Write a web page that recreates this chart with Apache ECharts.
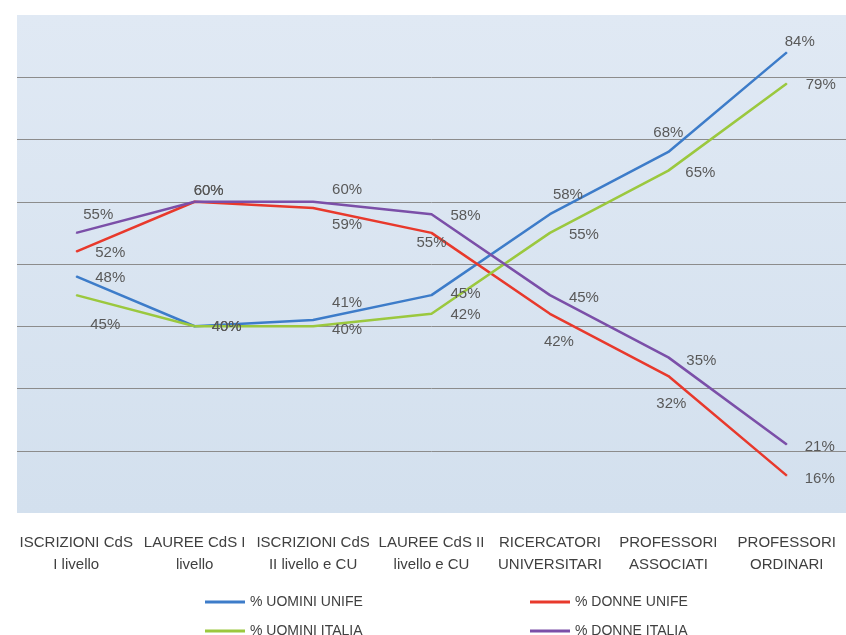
<!DOCTYPE html>
<html>
<head>
<meta charset="utf-8">
<script src="https://cdn.jsdelivr.net/npm/echarts@6/dist/echarts.min.js"></script>
<style>
  html, body { margin: 0; padding: 0; background: #fff; }
  #chart { width: 846px; height: 635px; }
</style>
</head>
<body>
<div id="chart"></div>
<script>
const categories = [
  'ISCRIZIONI CdS\nI livello',
  'LAUREE CdS I\nlivello',
  'ISCRIZIONI CdS\nII livello e CU',
  'LAUREE CdS II\nlivello e CU',
  'RICERCATORI\nUNIVERSITARI',
  'PROFESSORI\nASSOCIATI',
  'PROFESSORI\nORDINARI'
]

const uominiUnife = [48, 40, 41, 45, 58, 68, 84]
const donneUnife = [52, 60, 59, 55, 42, 32, 16]
const uominiItalia = [45, 40, 40, 42, 55, 65, 79]
const donneItalia = [55, 60, 60, 58, 45, 35, 21]

// label offsets (px) from each point, copied from the excel layout
const OFFSETS = {
  uominiUnife: [[34, 1], [32, 1], [34, -17], [34, -1], [18, -19], [0, -19], [13, -10]],
  donneUnife: [[34, 1], [14, -11], [34, 17], [0, 10], [9, 28], [3, 28], [33, 3]],
  uominiItalia: [[29, 30], [32, 1], [34, 4], [34, 1], [34, 2], [32, 2], [34, 1]],
  donneItalia: [[22, -18], [14, -11], [34, -12], [34, 2], [34, 3], [33, 3], [33, 2]]
}

const chart = echarts.init(document.getElementById('chart'))

const makeSeries = (name, values, offsets, color) => ({
  name,
  type: 'line',
  data: values.map((v, i) => ({
    value: v,
    label: { offset: offsets[i] }
  })),
  symbol: 'circle',
  symbolSize: 1,
  lineStyle: { width: 2.5, color },
  itemStyle: { color },
  label: {
    show: true,
    position: 'inside',
    formatter: p => p.value + '%',
    color: '#595959',
    fontFamily: 'Liberation Sans',
    fontSize: 15
  },
  emphasis: { disabled: true }
})

const legendBase = {
  icon: 'rect',
  itemWidth: 40,
  itemHeight: 3,
  itemGap: 4,
  textStyle: { color: '#404040', fontFamily: 'Liberation Sans', fontSize: 14, padding: [0, 0, 0, 0] }
}

const option = {
  animation: false,
  backgroundColor: '#ffffff',
  grid: {
    left: 17,
    top: 15,
    right: -6,
    height: 498,
    show: true,
    borderWidth: 0,
    backgroundColor: new echarts.graphic.LinearGradient(0, 0, 0, 1, [
      { offset: 0, color: '#e0e9f4' },
      { offset: 1, color: '#d3e0ee' }
    ])
  },
  legend: [
    { ...legendBase, data: ['% UOMINI UNIFE'], left: 200, top: 590 },
    { ...legendBase, data: ['% DONNE UNIFE'], left: 525, top: 590 },
    { ...legendBase, data: ['% UOMINI ITALIA'], left: 200, top: 619 },
    { ...legendBase, data: ['% DONNE ITALIA'], left: 525, top: 619 }
  ],
  xAxis: {
    type: 'category',
    data: categories,
    boundaryGap: true,
    axisLine: { show: false },
    axisTick: { show: false },
    axisLabel: {
      interval: 0,
      margin: 19,
      color: '#404040',
      fontFamily: 'Liberation Sans',
      fontSize: 15,
      lineHeight: 22
    }
  },
  yAxis: {
    type: 'value',
    min: 10,
    max: 90,
    interval: 10,
    axisLabel: { show: false },
    axisLine: { show: false },
    axisTick: { show: false },
    splitLine: {
      show: true,
      showMinLine: false,
      showMaxLine: false,
      lineStyle: { color: '#8c8c8c', width: 1 }
    }
  },
  series: [
    makeSeries('% UOMINI UNIFE', uominiUnife, OFFSETS.uominiUnife, '#3d7cc9'),
    makeSeries('% DONNE UNIFE', donneUnife, OFFSETS.donneUnife, '#e8392c'),
    makeSeries('% UOMINI ITALIA', uominiItalia, OFFSETS.uominiItalia, '#9bc83e'),
    makeSeries('% DONNE ITALIA', donneItalia, OFFSETS.donneItalia, '#7b4fa8')
  ]
}

chart.setOption(option)
</script>
</body>
</html>
